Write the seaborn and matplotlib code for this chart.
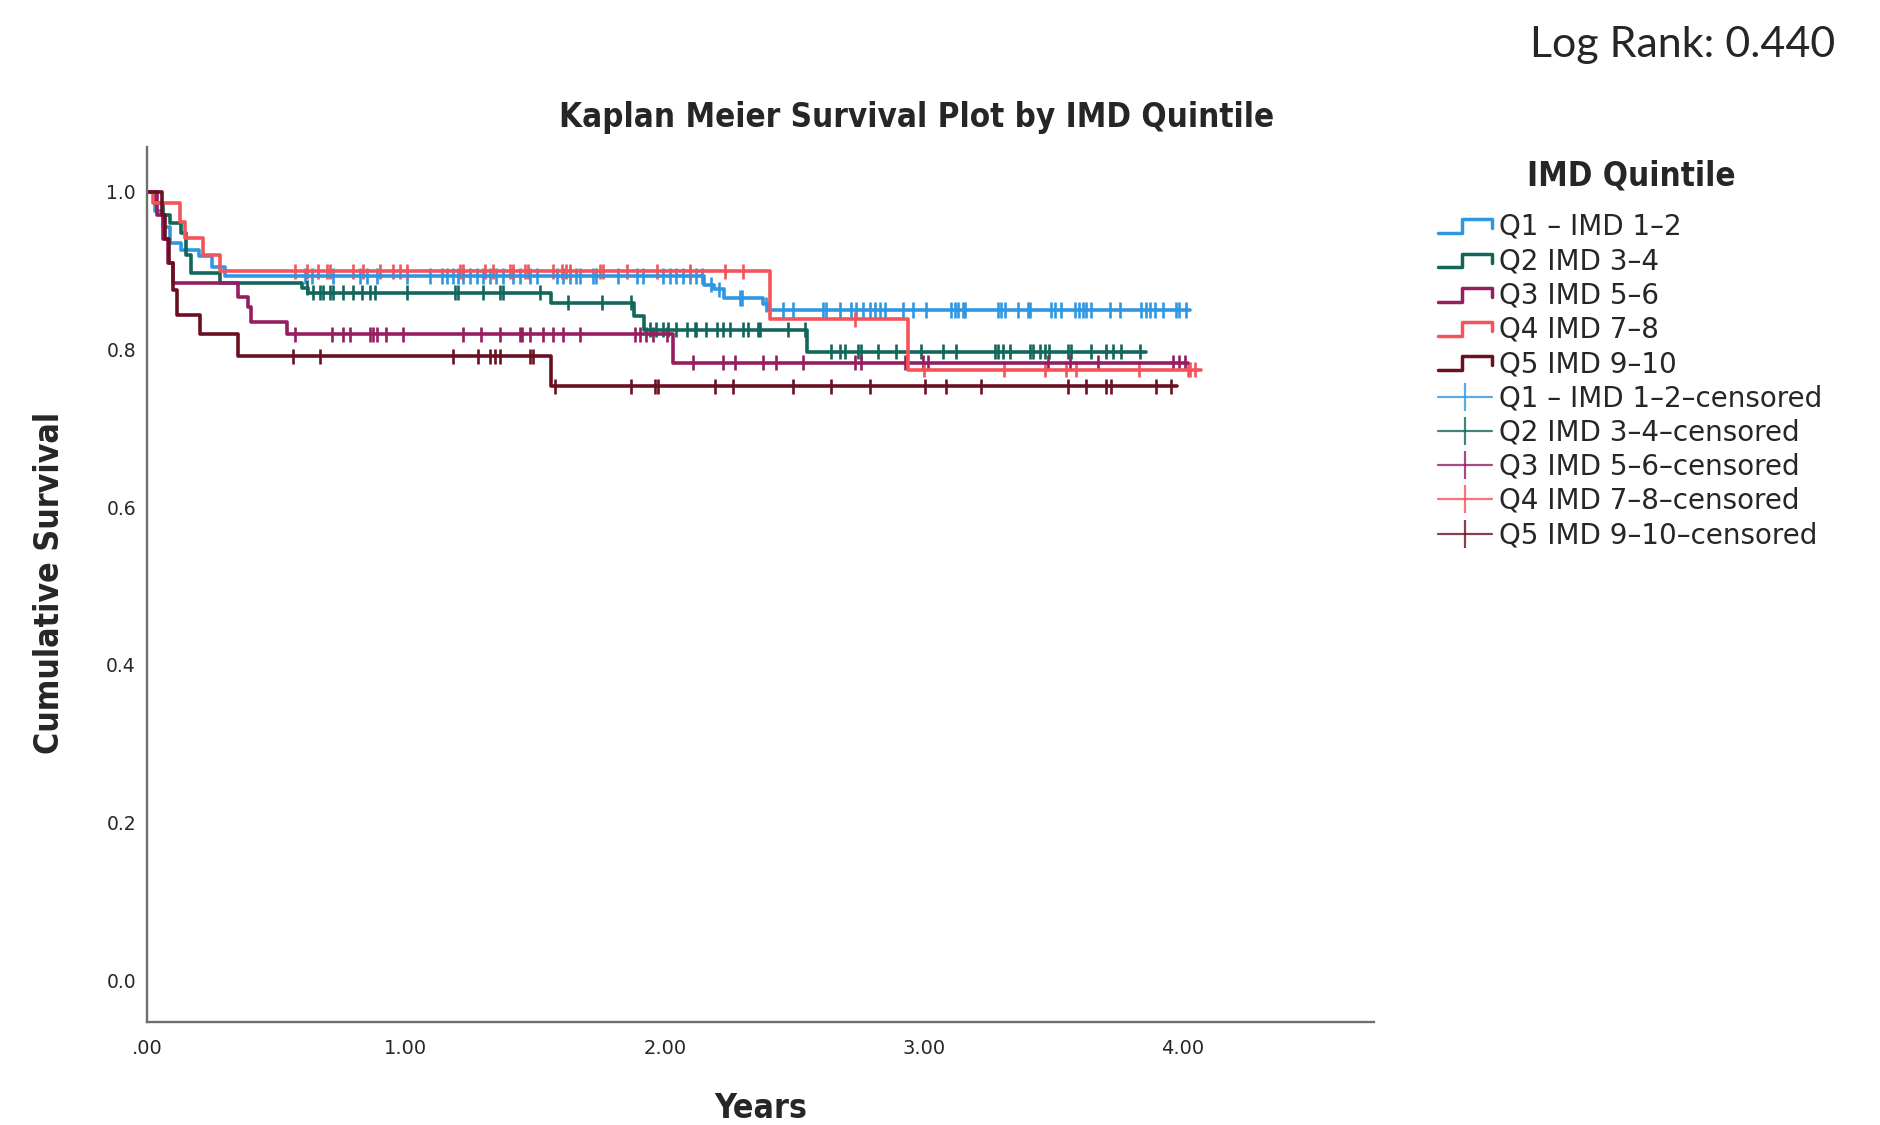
import numpy as np
import pandas as pd
import matplotlib
matplotlib.use("Agg")
import matplotlib.pyplot as plt
from matplotlib import font_manager
from matplotlib.lines import Line2D
from matplotlib.legend_handler import HandlerBase
import seaborn as sns

# ---- data (years, cumulative survival) ----
groups = ["Q1 - IMD 1-2", "Q2 IMD 3-4", "Q3 IMD 5-6", "Q4 IMD 7-8", "Q5 IMD 9-10"]
colors = ["#2f97e2", "#12675b", "#951d60", "#f5535a", "#6b1020"]

q1_times = [0, 0.03, 0.06, 0.09, 0.13, 0.20, 0.25, 0.30, 2.15, 2.19, 2.23, 2.38, 2.40]
q1_surv = [1.0, 0.975, 0.955, 0.935, 0.926, 0.918, 0.905, 0.893, 0.882, 0.876, 0.865, 0.857, 0.850]
q2_times = [0, 0.03, 0.06, 0.09, 0.13, 0.15, 0.17, 0.28, 0.60, 0.62, 1.56, 1.88, 1.92, 2.55]
q2_surv = [1.0, 0.985, 0.971, 0.96, 0.948, 0.92, 0.897, 0.884, 0.878, 0.872, 0.859, 0.842, 0.825, 0.797]
q3_times = [0, 0.04, 0.06, 0.08, 0.10, 0.35, 0.39, 0.40, 0.54, 2.03]
q3_surv = [1.0, 0.97, 0.94, 0.91, 0.884, 0.867, 0.854, 0.835, 0.819, 0.783]
q4_times = [0, 0.024, 0.127, 0.147, 0.217, 0.282, 2.405, 2.94]
q4_surv = [1.0, 0.986, 0.962, 0.941, 0.92, 0.899, 0.838, 0.774]
q5_times = [0, 0.057, 0.07, 0.085, 0.10, 0.115, 0.205, 0.353, 1.562]
q5_surv = [1.0, 0.97, 0.94, 0.91, 0.875, 0.844, 0.819, 0.791, 0.753]
end_years = [4.03, 3.86, 4.02, 4.07, 3.98]

q1_cens = [0.61, 0.636, 0.718, 0.822, 0.848, 0.887, 1.003, 1.093, 1.138, 1.157, 1.183, 1.202,
           1.221, 1.247, 1.273, 1.299, 1.324, 1.35, 1.376, 1.414, 1.44, 1.479, 1.505, 1.582,
           1.607, 1.633, 1.659, 1.672, 1.723, 1.736, 1.82, 1.891, 1.916, 1.994, 2.019, 2.045,
           2.071, 2.097, 2.122, 2.142, 2.18, 2.21, 2.29, 2.30, 2.39, 2.457, 2.495, 2.611,
           2.624, 2.676, 2.721, 2.74, 2.766, 2.792, 2.811, 2.83, 2.849, 2.92, 2.959, 3.01,
           3.107, 3.12, 3.133, 3.152, 3.158, 3.287, 3.3, 3.313, 3.364, 3.403, 3.409, 3.493,
           3.506, 3.532, 3.583, 3.602, 3.615, 3.628, 3.647, 3.718, 3.757, 3.84, 3.86, 3.873,
           3.892, 3.924, 3.976, 3.988, 4.014]
q2_cens = [0.617, 0.642, 0.668, 0.681, 0.707, 0.719, 0.758, 0.797, 0.829, 0.861, 0.88, 1.003,
           1.189, 1.202, 1.299, 1.363, 1.376, 1.517, 1.627, 1.756, 1.871, 1.942, 1.968, 1.994,
           2.013, 2.045, 2.084, 2.116, 2.122, 2.161, 2.2, 2.225, 2.251, 2.302, 2.322, 2.36,
           2.367, 2.476, 2.54, 2.643, 2.676, 2.695, 2.746, 2.759, 2.824, 2.895, 2.991, 3.075,
           3.126, 3.274, 3.287, 3.306, 3.332, 3.409, 3.422, 3.448, 3.467, 3.486, 3.557, 3.57,
           3.647, 3.705, 3.731, 3.763, 3.834]
q3_cens = [0.571, 0.713, 0.758, 0.784, 0.861, 0.874, 0.887, 0.925, 0.99, 1.221, 1.292, 1.363,
           1.44, 1.447, 1.479, 1.53, 1.569, 1.607, 1.672, 1.884, 1.903, 1.929, 1.955, 2.007,
           2.109, 2.225, 2.27, 2.38, 2.431, 2.534, 2.734, 2.759, 2.927, 2.997, 3.017, 3.48,
           3.564, 3.673, 3.963, 3.988, 4.008]
q4_cens = [0.571, 0.618, 0.66, 0.695, 0.707, 0.795, 0.834, 0.9, 0.95, 0.977, 1.004, 1.208,
           1.22, 1.305, 1.336, 1.402, 1.413, 1.459, 1.471, 1.568, 1.602, 1.62, 1.633, 1.749,
           1.761, 1.853, 1.969, 2.097, 2.232, 2.301, 2.734, 3.0, 3.31, 3.47, 3.55, 3.59, 3.83,
           4.02, 4.03, 4.05]
q5_cens = [0.565, 0.668, 1.183, 1.279, 1.324, 1.344, 1.363, 1.479, 1.492, 1.575, 1.871, 1.961,
           1.974, 2.193, 2.264, 2.495, 2.643, 2.792, 3.004, 3.088, 3.222, 3.557, 3.628, 3.705,
           3.724, 3.898, 3.956]

all_times = [q1_times, q2_times, q3_times, q4_times, q5_times]
all_surv = [q1_surv, q2_surv, q3_surv, q4_surv, q5_surv]
all_cens = [q1_cens, q2_cens, q3_cens, q4_cens, q5_cens]

# build long tables for seaborn
curve_rows = []
cens_rows = []
for g, t, s, end, c in zip(groups, all_times, all_surv, end_years, all_cens):
    for ti, si in zip(t + [end], s + [s[-1]]):
        curve_rows.append((g, ti, si))
    t_arr = np.array(t)
    for ci in c:
        idx = np.searchsorted(t_arr, ci, side="right") - 1
        cens_rows.append((g, ci, s[idx]))
curves = pd.DataFrame(curve_rows, columns=["group", "years", "survival"])
censored = pd.DataFrame(cens_rows, columns=["group", "years", "survival"])
palette = dict(zip(groups, colors))


class HandlerStep(HandlerBase):
    def create_artists(self, legend, orig_handle, xdescent, ydescent, width, height,
                       fontsize, trans):
        x0 = -xdescent
        x1 = x0 + width
        xm = x0 + width * 0.45
        lo = -ydescent + height * 0.1
        hi = -ydescent + height * 0.8
        line = Line2D([x0, xm, xm, x1, x1], [lo, lo, hi, hi, lo + (hi - lo) * 0.35],
                      color=orig_handle.get_color(), lw=2.5, transform=trans)
        return [line]


sns.set_style("white")

# pick a condensed face for the headings if one is installed
installed = {(f.name, f.stretch) for f in font_manager.fontManager.ttflist}
if any(n == "Liberation Sans Narrow" for n, _ in installed):
    head = dict(family="Liberation Sans Narrow", fontweight="bold")
    head_size = 25.5
elif ("DejaVu Sans", "condensed") in installed or ("DejaVu Sans", 75) in installed:
    head = dict(family="DejaVu Sans", fontstretch="condensed", fontweight="bold")
    head_size = 23.8
else:
    head = dict(family="DejaVu Sans", fontweight="bold")
    head_size = 21.5

fig = plt.figure(figsize=(18.8, 11.25), dpi=100)
ax = fig.add_axes([0.0782, 0.0916, 0.6527, 0.7773])

sns.lineplot(data=curves, x="years", y="survival", hue="group", hue_order=groups,
             palette=palette, estimator=None, sort=False, drawstyle="steps-post",
             linewidth=2.6, legend=False, ax=ax)
sns.scatterplot(data=censored, x="years", y="survival", hue="group", hue_order=groups,
                palette=palette, marker="|", s=120, linewidth=1.9, legend=False, ax=ax)

ax.set_xlim(0, 4.74)
ax.set_ylim(-0.053, 1.056)
ax.set_xticks([0, 1, 2, 3, 4])
ax.set_xticklabels([".00", "1.00", "2.00", "3.00", "4.00"], fontsize=14)
ax.set_yticks([0, 0.2, 0.4, 0.6, 0.8, 1.0])
ax.set_yticklabels(["0.0", "0.2", "0.4", "0.6", "0.8", "1.0"], fontsize=13.5)
ax.tick_params(axis="x", length=0, pad=12)
ax.tick_params(axis="y", length=0, pad=8)
ax.set_xlabel("")
ax.set_ylabel("")
for side in ["top", "right"]:
    ax.spines[side].set_visible(False)
for side in ["left", "bottom"]:
    ax.spines[side].set_color("#6f6f6f")
    ax.spines[side].set_linewidth(1.7)

fig.text(917 / 1880, 1 - 117 / 1125, "Kaplan Meier Survival Plot by IMD Quintile",
         ha="center", va="center", fontsize=head_size, **head)
fig.text(50 / 1880, 1 - 583 / 1125, "Cumulative Survival", rotation=90, ha="center",
         va="center", fontsize=head_size + 0.5, **head)
fig.text(761 / 1880, 1 - 1108 / 1125, "Years", ha="center", va="center",
         fontsize=head_size + 0.5, **head)
fig.text(1683 / 1880, 1 - 45 / 1125, "Log Rank: 0.440", ha="center", va="center",
         family="Lato", fontsize=31)
# legend heading
fig.text(1631 / 1880, 1 - 176 / 1125, "IMD Quintile", ha="center", va="center",
         fontsize=head_size, **head)

# legend
step_handles = [Line2D([], [], color=c) for c in colors]
cens_handles = [Line2D([], [], color=c, alpha=0.8, lw=1.6, marker="|", markersize=20,
                       markeredgewidth=1.6) for c in colors]
labels = [l.replace("-", "\u2013") for l in groups + [g + "-censored" for g in groups]]
handler_map = {h: HandlerStep() for h in step_handles}
leg = fig.legend(step_handles + cens_handles, labels, handler_map=handler_map,
                 loc="upper left", bbox_to_anchor=(1438 / 1880, 1 - 213 / 1125),
                 frameon=False, fontsize=20,
                 handlelength=1.95, handletextpad=0.25, labelspacing=0.225,
                 borderaxespad=0, borderpad=0, numpoints=1)

fig.savefig("out.png", dpi=100)
